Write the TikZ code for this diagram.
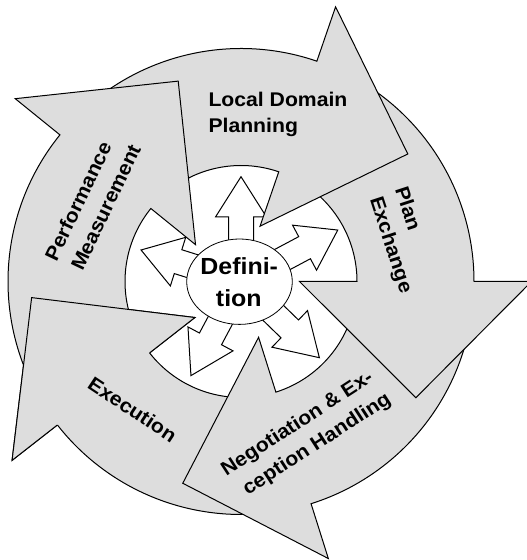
\documentclass[tikz,border=0pt]{standalone}
\usepackage{fontspec}
\newfontfamily\lblfont[FakeStretch=1.07]{Liberation Sans}
\usetikzlibrary{shapes.geometric}
\definecolor{arrowgray}{RGB}{221,221,221}
\tikzset{
  bigarrow/.style={fill=arrowgray, draw=black, line width=1pt, line join=miter},
  smallarrow/.style={fill=white, draw=black, line width=1pt, line join=miter},
  lbl/.style={font=\lblfont\bfseries\fontsize{19.8}{26}\selectfont, inner sep=0pt},
  deflbl/.style={font=\lblfont\bfseries\fontsize{23.3}{31}\selectfont, inner sep=0pt},
}
% #1 barb angle, #2 tail span
\newcommand\bigarr[2]{%
  \draw[bigarrow] ({#1+#2}:233pt) arc[start angle={#1+#2}, end angle={#1}, radius=233pt]
    -- (#1:290.5pt) -- ({#1-33.6}:210pt) -- (#1:58.5pt) -- (#1:116pt)
    arc[start angle={#1}, end angle={#1+#2}, radius=116pt] -- cycle;}
% #1 angle, #2 head base, #3 tip
\newcommand\smarr[3]{%
  \begin{scope}[rotate=#1]
  \draw[smallarrow] (30pt,12.5pt) -- (#2pt,12.5pt) -- (#2pt,25.5pt) -- (#3pt,0pt)
    -- (#2pt,-25.5pt) -- (#2pt,-12.5pt) -- (30pt,-12.5pt) -- cycle;
  \end{scope}}
\begin{document}
\begin{tikzpicture}[x=1pt,y=1pt]
\path[use as bounding box, fill=white] (0,0) rectangle (527,560);
\begin{scope}[shift={(241,278.5)}]
  \smarr{90}{64.5}{104.8}
  \smarr{28}{72}{109.6}
  \smarr{-44.2}{68}{109.3}
  \smarr{-118}{65}{106.6}
  \smarr{162.5}{66}{104.8}
  \bigarr{-142}{61.5}
  \bigarr{-72.5}{64.5}
  \bigarr{0}{63}
  \bigarr{71}{62}
  \bigarr{141}{69}
  \fill[arrowgray] (-142:290.5pt) -- (-175.6:210pt) -- (-142:58.5pt) -- cycle;
  \draw[line width=1pt, line join=miter] (-142:233pt) -- (-142:290.5pt) -- (-175.6:210pt) -- (-142:58.5pt) -- (-142:116pt);
\end{scope}
\node[ellipse, draw, fill=white, line width=0.8pt, minimum width=105.6pt, minimum height=85.4pt, inner sep=0pt] (def) at (239.5,278.3) {};
\node[deflbl, anchor=base] (defa) at (239.2,285) {Defini-};
\node[deflbl, anchor=base] (defb) at (238.8,253.3) {tion};
\node[lbl, anchor=base west] (ldpa) at (208.3,453.3) {Local Domain};
\node[lbl, anchor=base west] (ldpb) at (208.3,427.3) {Planning};
\node[lbl, anchor=base, rotate=-72] (pea) at (401.8,349.3) {Plan};
\node[lbl, anchor=base, rotate=-72] (peb) at (385.3,313.1) {Exchange};
\node[lbl, anchor=base, rotate=64.5] (pma) at (84.4,355.7) {Performance};
\node[lbl, anchor=base, rotate=64.5] (pmb) at (111.9,349.7) {Measurement};
\node[lbl, anchor=base, rotate=-33.5] (ex) at (128.6,144.7) {Execution};
\node[lbl, anchor=base, rotate=33] (nea) at (300.3,131.5) {Negotiation \& Ex-};
\node[lbl, anchor=base, rotate=33] (neb) at (319.9,111.2) {ception Handling};
\end{tikzpicture}
\end{document}
